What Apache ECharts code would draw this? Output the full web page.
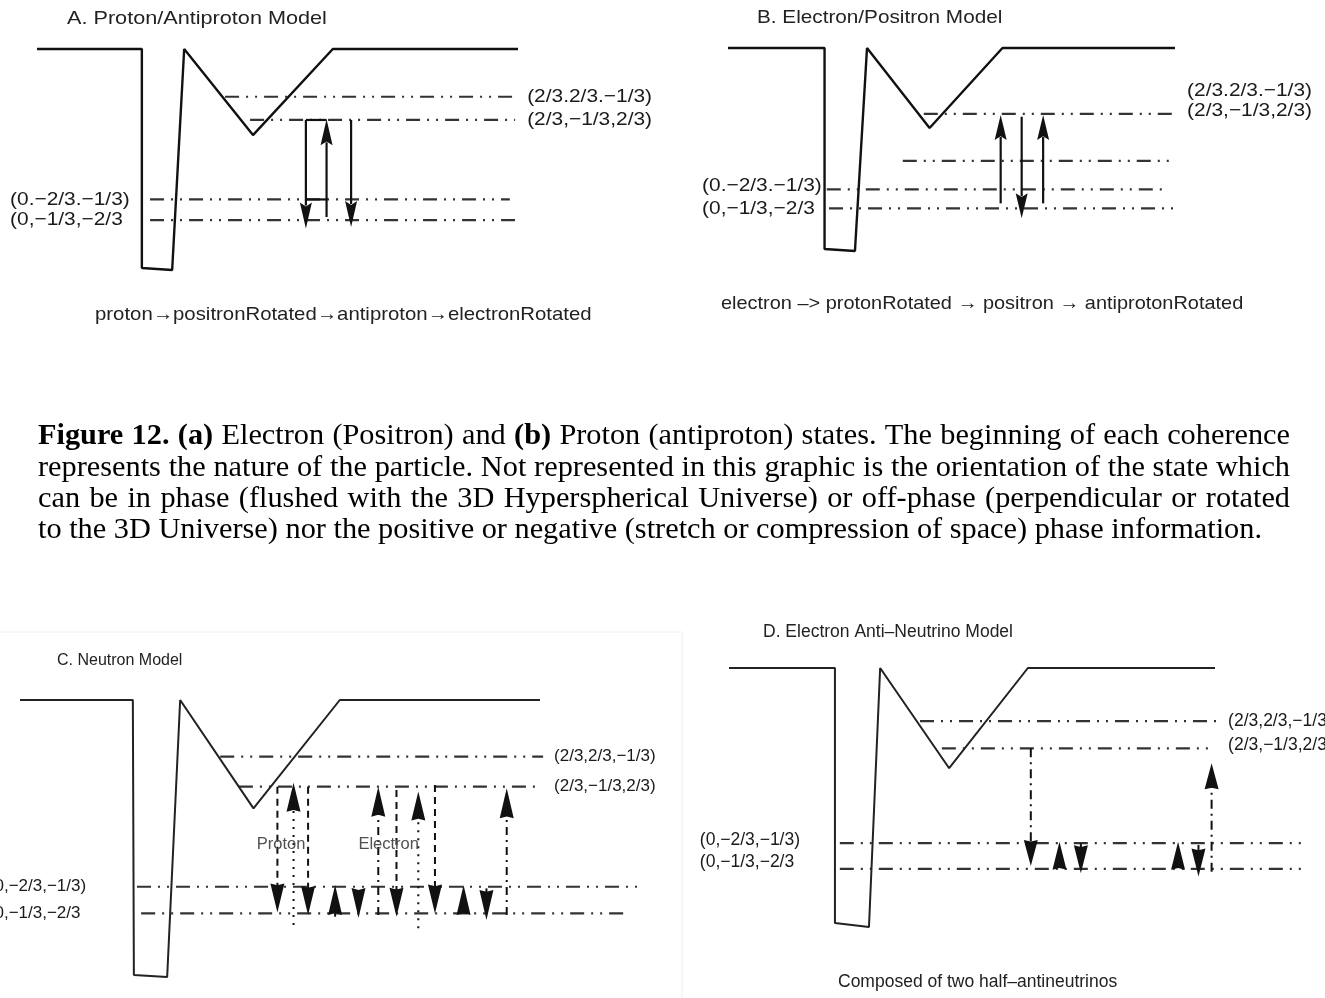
<!DOCTYPE html>
<html>
<head>
<meta charset="utf-8">
<script src="https://cdn.jsdelivr.net/npm/echarts@6/dist/echarts.min.js"></script>
<style>
  html, body { margin: 0; padding: 0; background: #fff; }
  #chart { width: 1325px; height: 998px; }
</style>
</head>
<body>
<div id="chart"></div>
<script>
// Potential profiles: position along the panel (0-100) and energy (0 = outer level, -100 = deep well floor)
const wellA_u = [0, 21.8, 21.8, 28.1, 30.6, 44.9, 61.5, 100];
const wellA_e = [0, 0, -100, -100.9, 0, -39.3, 0, 0];
const wellB_u = [0, 21.6, 21.6, 28.4, 31.1, 45.1, 61.4, 100];
const wellB_e = [0, 0, -100, -101, 0, -39.8, 0, 0];
const wellC_u = [0, 21.7, 21.9, 28.3, 30.8, 44.9, 61.5, 100];
const wellC_e = [0, 0, -100, -100.7, 0, -39.4, 0, 0];
const wellD_u = [0, 21.8, 21.8, 28.8, 31.1, 45.3, 61.5, 100];
const wellD_e = [0, 0, -100, -101.6, 0, -39.3, 0, 0];

// Energy levels: [start, end, energy]
const levelsA = [[39.1, 99.4, -21.8], [44.3, 99.4, -32.4], [23.5, 98.3, -68.7], [23.5, 99.4, -78.1]];
const levelsB = [[43.8, 99.6, -32.8], [39.1, 100, -56.2], [22.1, 98.4, -70.3], [22.6, 99.6, -79.8]];
const levelsC = [[38.5, 100.6, -20.6], [42.1, 99.8, -31.5], [22.5, 118.7, -67.9], [23.3, 117.3, -77.6]];
const levelsD = [[39.3, 101.0, -20.8], [43.8, 99.3, -31.5], [22.8, 118.1, -68.7], [22.8, 117.7, -78.8]];

// Level names and the energies they sit at
const upperNamesAB = ['(2/3.2/3.−1/3)', '(2/3,−1/3,2/3)'];
const lowerNamesAB = ['(0.−2/3.−1/3)', '(0,−1/3,−2/3'];
const upperNamesCD = ['(2/3,2/3,−1/3)', '(2/3,−1/3,2/3)'];
const lowerNamesCD = ['(0,−2/3,−1/3)', '(0,−1/3,−2/3'];
const upperE_A = [-21.8, -32.4], lowerE_A = [-68.7, -78.1];
const upperE_B = [-21.4, -31.3], lowerE_B = [-68.7, -80.1];
const upperE_C = [-20.6, -31.5], lowerE_C = [-67.9, -77.6];
const upperE_D = [-20.8, -30.2], lowerE_D = [-67.5, -76.1];

// Transitions: [position, from energy, to energy] (head drawn at the "to" end)
const arrowsA = [[55.9, -32.4, -82.0], [60.2, -76.7, -32.1], [65.3, -32.4, -81.3]];
const bracketsA = [[55.9, 60.2, -32.4], [55.9, 60.2, -68.7]];
const arrowsB = [[61.0, -77.3, -33.3], [65.7, -34.2, -84.7], [70.5, -77.3, -33.3]];
const neutronDashedDown = [[49.5, -31.5, -77.3], [55.4, -31.5, -78.2], [72.4, -32.7, -78.8], [79.8, -30.9, -77.6]];
const neutronDottedUp = [[52.6, -81.8, -30.1], [76.6, -83.0, -33.3]];
const neutronDashDotUp = [[68.9, -78.2, -31.5], [93.6, -78.2, -32.1]];
const neutronShortHeads = [[60.6, -78.8, -67.3], [65.1, -68.4, -79.3], [85.3, -78.2, -67.3], [89.7, -68.5, -80.0]];
const neutronNotes = ['Proton', 'Electron'];
const neutronNotePos = [[50.2, -52.7], [70.9, -52.7]];
const antiNeutrinoDashDot = [[62.1, -31.5, -77.6], [99.3, -79.9, -37.4]];
const antiNeutrinoHeads = [[68.0, -79.2, -68.1], [72.4, -68.7, -80.5], [92.4, -79.2, -68.1], [96.6, -69.4, -81.8]];

// Panel headings and captions
const panelTitles = ['A. Proton/Antiproton Model', 'B. Electron/Positron Model', 'C. Neutron Model', 'D. Electron Anti–Neutrino Model'];
const panelNotes = ['proton→positronRotated→antiproton→electronRotated', 'electron –> protonRotated → positron → antiprotonRotated', '', 'Composed of two half–antineutrinos'];
const captionLines = [
  '*Figure* *12.* *(a)* Electron (Positron) and *(b)* Proton (antiproton) states. The beginning of each coherence',
  'represents the nature of the particle. Not represented in this graphic is the orientation of the state which',
  'can be in phase (flushed with the 3D Hyperspherical Universe) or off-phase (perpendicular or rotated',
  'to the 3D Universe) nor the positive or negative (stretch or compression of space) phase information.'
];

const SANS = '"Liberation Sans", Arial, Helvetica, sans-serif';
const SERIF = '"Liberation Serif", "Times New Roman", Times, serif';
const LEVEL_DASH = [14, 7, 2, 7, 2, 7];

const panels = [
  { grid: { left: 37, top: 49, width: 481, height: 219 }, u: wellA_u, e: wellA_e, levels: levelsA,
    upper: upperNamesAB, upperE: upperE_A, lower: lowerNamesAB, lowerE: lowerE_A,
    rightU: 101.9, leftU: -5.6, font: 18.5, sx: 1.13, wellColor: '#111', wellWidth: 2.4 },
  { grid: { left: 728, top: 48, width: 447, height: 201 }, u: wellB_u, e: wellB_e, levels: levelsB,
    upper: upperNamesAB, upperE: upperE_B, lower: lowerNamesAB, lowerE: lowerE_B,
    rightU: 102.7, leftU: -5.8, font: 18.5, sx: 1.13, wellColor: '#111', wellWidth: 2.4 },
  { grid: { left: 20, top: 700, width: 520, height: 275 }, u: wellC_u, e: wellC_e, levels: levelsC,
    upper: upperNamesCD, upperE: upperE_C, lower: lowerNamesCD, lowerE: lowerE_C,
    rightU: 102.7, leftU: -6.0, font: 17, sx: 1, wellColor: '#222', wellWidth: 2 },
  { grid: { left: 729, top: 668, width: 486, height: 255 }, u: wellD_u, e: wellD_e, levels: levelsD,
    upper: upperNamesCD, upperE: upperE_D, lower: lowerNamesCD, lowerE: lowerE_D,
    rightU: 102.7, leftU: -6.0, font: 17.5, sx: 1, wellColor: '#222', wellWidth: 2 }
];

function levelRenderer(params, api) {
  const a = api.coord([api.value(0), api.value(2)]);
  const b = api.coord([api.value(1), api.value(2)]);
  return { type: 'line', shape: { x1: a[0], y1: a[1], x2: b[0], y2: b[1] },
    style: { stroke: '#333', lineWidth: 2.2, lineDash: LEVEL_DASH } };
}

function bracketRenderer(params, api) {
  const a = api.coord([api.value(0), api.value(2)]);
  const b = api.coord([api.value(1), api.value(2)]);
  return { type: 'line', shape: { x1: a[0], y1: a[1], x2: b[0], y2: b[1] },
    style: { stroke: '#111', lineWidth: 2.2 } };
}

function arrowRenderer(opt) {
  return function (params, api) {
    const u = api.value(0);
    const p0 = api.coord([u, api.value(1)]);
    const p1 = api.coord([u, api.value(2)]);
    const dir = p1[1] > p0[1] ? 1 : -1;
    const len = Math.abs(p1[1] - p0[1]);
    const hl = Math.min(opt.headL, len);
    const by = p1[1] - dir * hl;
    const notch = by + dir * hl * (opt.notch || 0);
    const kids = [];
    if (len - hl > 1) {
      const style = { stroke: '#111', lineWidth: opt.width };
      if (opt.dash) style.lineDash = opt.dash;
      kids.push({ type: 'line', shape: { x1: p0[0], y1: p0[1], x2: p0[0], y2: by + dir * 3 }, style });
    }
    kids.push({ type: 'polygon',
      shape: { points: [[p1[0], p1[1]], [p1[0] - opt.headW / 2, by], [p1[0], notch], [p1[0] + opt.headW / 2, by]] },
      style: { fill: '#111' } });
    return { type: 'group', children: kids };
  };
}

function textRenderer(names, font, sx, align, color) {
  return function (params, api) {
    const p = api.coord([api.value(0), api.value(1)]);
    return { type: 'text', x: p[0], y: p[1], scaleX: sx,
      style: { text: names[params.dataIndex], font: font, fill: color, align: align, verticalAlign: 'middle' } };
  };
}

const grid = [], xAxis = [], yAxis = [], series = [];
panels.forEach((p, i) => {
  grid.push(p.grid);
  xAxis.push({ type: 'value', gridIndex: i, min: 0, max: 100, show: false });
  yAxis.push({ type: 'value', gridIndex: i, min: -100, max: 0, show: false });
  const base = { xAxisIndex: i, yAxisIndex: i, silent: true, animation: false };
  series.push(Object.assign({ type: 'line', data: p.u.map((x, k) => [x, p.e[k]]), symbol: 'none', clip: false,
    lineStyle: { color: p.wellColor, width: p.wellWidth }, z: 3 }, base));
  series.push(Object.assign({ type: 'custom', data: p.levels, encode: { x: [0, 1], y: 2 }, clip: false,
    renderItem: levelRenderer, z: 2 }, base));
  const font = `${p.font}px ${SANS}`;
  series.push(Object.assign({ type: 'custom', data: p.upperE.map(v => [p.rightU, v]), clip: false,
    renderItem: textRenderer(p.upper, font, p.sx, 'left', '#1a1a1a'), z: 4 }, base));
  series.push(Object.assign({ type: 'custom', data: p.lowerE.map(v => [p.leftU, v]), clip: false,
    renderItem: textRenderer(p.lower, font, p.sx, 'left', '#1a1a1a'), z: 4 }, base));
});

function addArrows(i, rows, opt) {
  series.push({ type: 'custom', xAxisIndex: i, yAxisIndex: i, silent: true, animation: false, clip: false,
    data: rows, encode: { x: 0, y: [1, 2] }, renderItem: arrowRenderer(opt), z: 5 });
}
addArrows(0, arrowsA, { headW: 12, headL: 26, width: 2.2, notch: 0.15 });
series.push({ type: 'custom', xAxisIndex: 0, yAxisIndex: 0, silent: true, animation: false, clip: false,
  data: bracketsA, encode: { x: [0, 1], y: 2 }, renderItem: bracketRenderer, z: 5 });
addArrows(1, arrowsB, { headW: 12, headL: 25, width: 2.2, notch: 0.15 });
addArrows(2, neutronDashedDown, { headW: 14, headL: 29, width: 2, dash: [7, 5], notch: 0.06 });
addArrows(2, neutronDottedUp, { headW: 14, headL: 29, width: 2, dash: [2, 6], notch: 0.06 });
addArrows(2, neutronDashDotUp, { headW: 14, headL: 30, width: 2, dash: [8, 5, 2, 5], notch: 0.06 });
addArrows(2, neutronShortHeads, { headW: 14, headL: 30, width: 2, notch: 0.06 });
addArrows(3, antiNeutrinoDashDot, { headW: 14, headL: 26, width: 2, dash: [9, 5, 2, 5], notch: 0.06 });
addArrows(3, antiNeutrinoHeads, { headW: 14, headL: 28, width: 2, notch: 0.06 });
series.push({ type: 'custom', xAxisIndex: 2, yAxisIndex: 2, silent: true, animation: false, clip: false,
  data: neutronNotePos, renderItem: textRenderer(neutronNotes, `16.5px ${SANS}`, 1, 'center', '#505050'), z: 6 });

// Headings, sub-captions and the figure caption
const graphics = [];
const titlePos = [[67, 19, 18.5, 1.17], [757, 18, 18.5, 1.12], [57, 661, 16, 1], [763, 632, 17.5, 1]];
const notePos = [[95, 315, 18.5, 1.1], [721, 304, 18.5, 1.077], null, [838, 982, 17.5, 1]];
panelTitles.forEach((t, i) => {
  const [x, y, s, sx] = titlePos[i];
  graphics.push({ type: 'text', x, y, scaleX: sx, silent: true,
    style: { text: t, font: `${s}px ${SANS}`, fill: '#222', align: 'left', verticalAlign: 'middle' } });
});
panelNotes.forEach((t, i) => {
  if (!t) return;
  const [x, y, s, sx] = notePos[i];
  graphics.push({ type: 'text', x, y, scaleX: sx, silent: true,
    style: { text: t, font: `${s}px ${SANS}`, fill: '#222', align: 'left', verticalAlign: 'middle' } });
});
// faint frame around the neutron panel
graphics.push({ type: 'polyline', silent: true, shape: { points: [[0, 632], [682, 632], [682, 998]] },
  style: { stroke: '#eeeeee', lineWidth: 1, fill: null } });

(function buildCaption() {
  const size = 30, left = 38, right = 1290, lastRight = 1262;
  const lineY = [436, 468, 499, 530];
  const ctx = document.createElement('canvas').getContext('2d');
  const fontOf = b => `${b ? 'bold ' : ''}${size}px ${SERIF}`;
  const lines = captionLines.map(l => l.split(' ').map(w => {
    const bold = w.length > 2 && w[0] === '*' && w[w.length - 1] === '*';
    const text = bold ? w.slice(1, -1) : w;
    ctx.font = fontOf(bold);
    return { text, bold, w: ctx.measureText(text).width };
  }));
  ctx.font = fontOf(false);
  const space = ctx.measureText(' ').width;
  const last = lines[lines.length - 1];
  const natural = last.reduce((s, o) => s + o.w, 0) + space * (last.length - 1);
  const sx = (lastRight - left) / natural;
  lines.forEach((words, li) => {
    const isLast = li === lines.length - 1;
    const total = words.reduce((s, o) => s + o.w * sx, 0);
    const gap = isLast ? space * sx : (right - left - total) / (words.length - 1);
    let x = left;
    words.forEach(o => {
      graphics.push({ type: 'text', x, y: lineY[li], scaleX: sx, silent: true,
        style: { text: o.text, font: fontOf(o.bold), fill: '#000', align: 'left', verticalAlign: 'middle' } });
      x += o.w * sx + gap;
    });
  });
})();

const chart = echarts.init(document.getElementById('chart'), null, { renderer: 'canvas' });
chart.setOption({
  backgroundColor: '#ffffff',
  animation: false,
  grid, xAxis, yAxis, series,
  graphic: { elements: graphics }
});
</script>
</body>
</html>
